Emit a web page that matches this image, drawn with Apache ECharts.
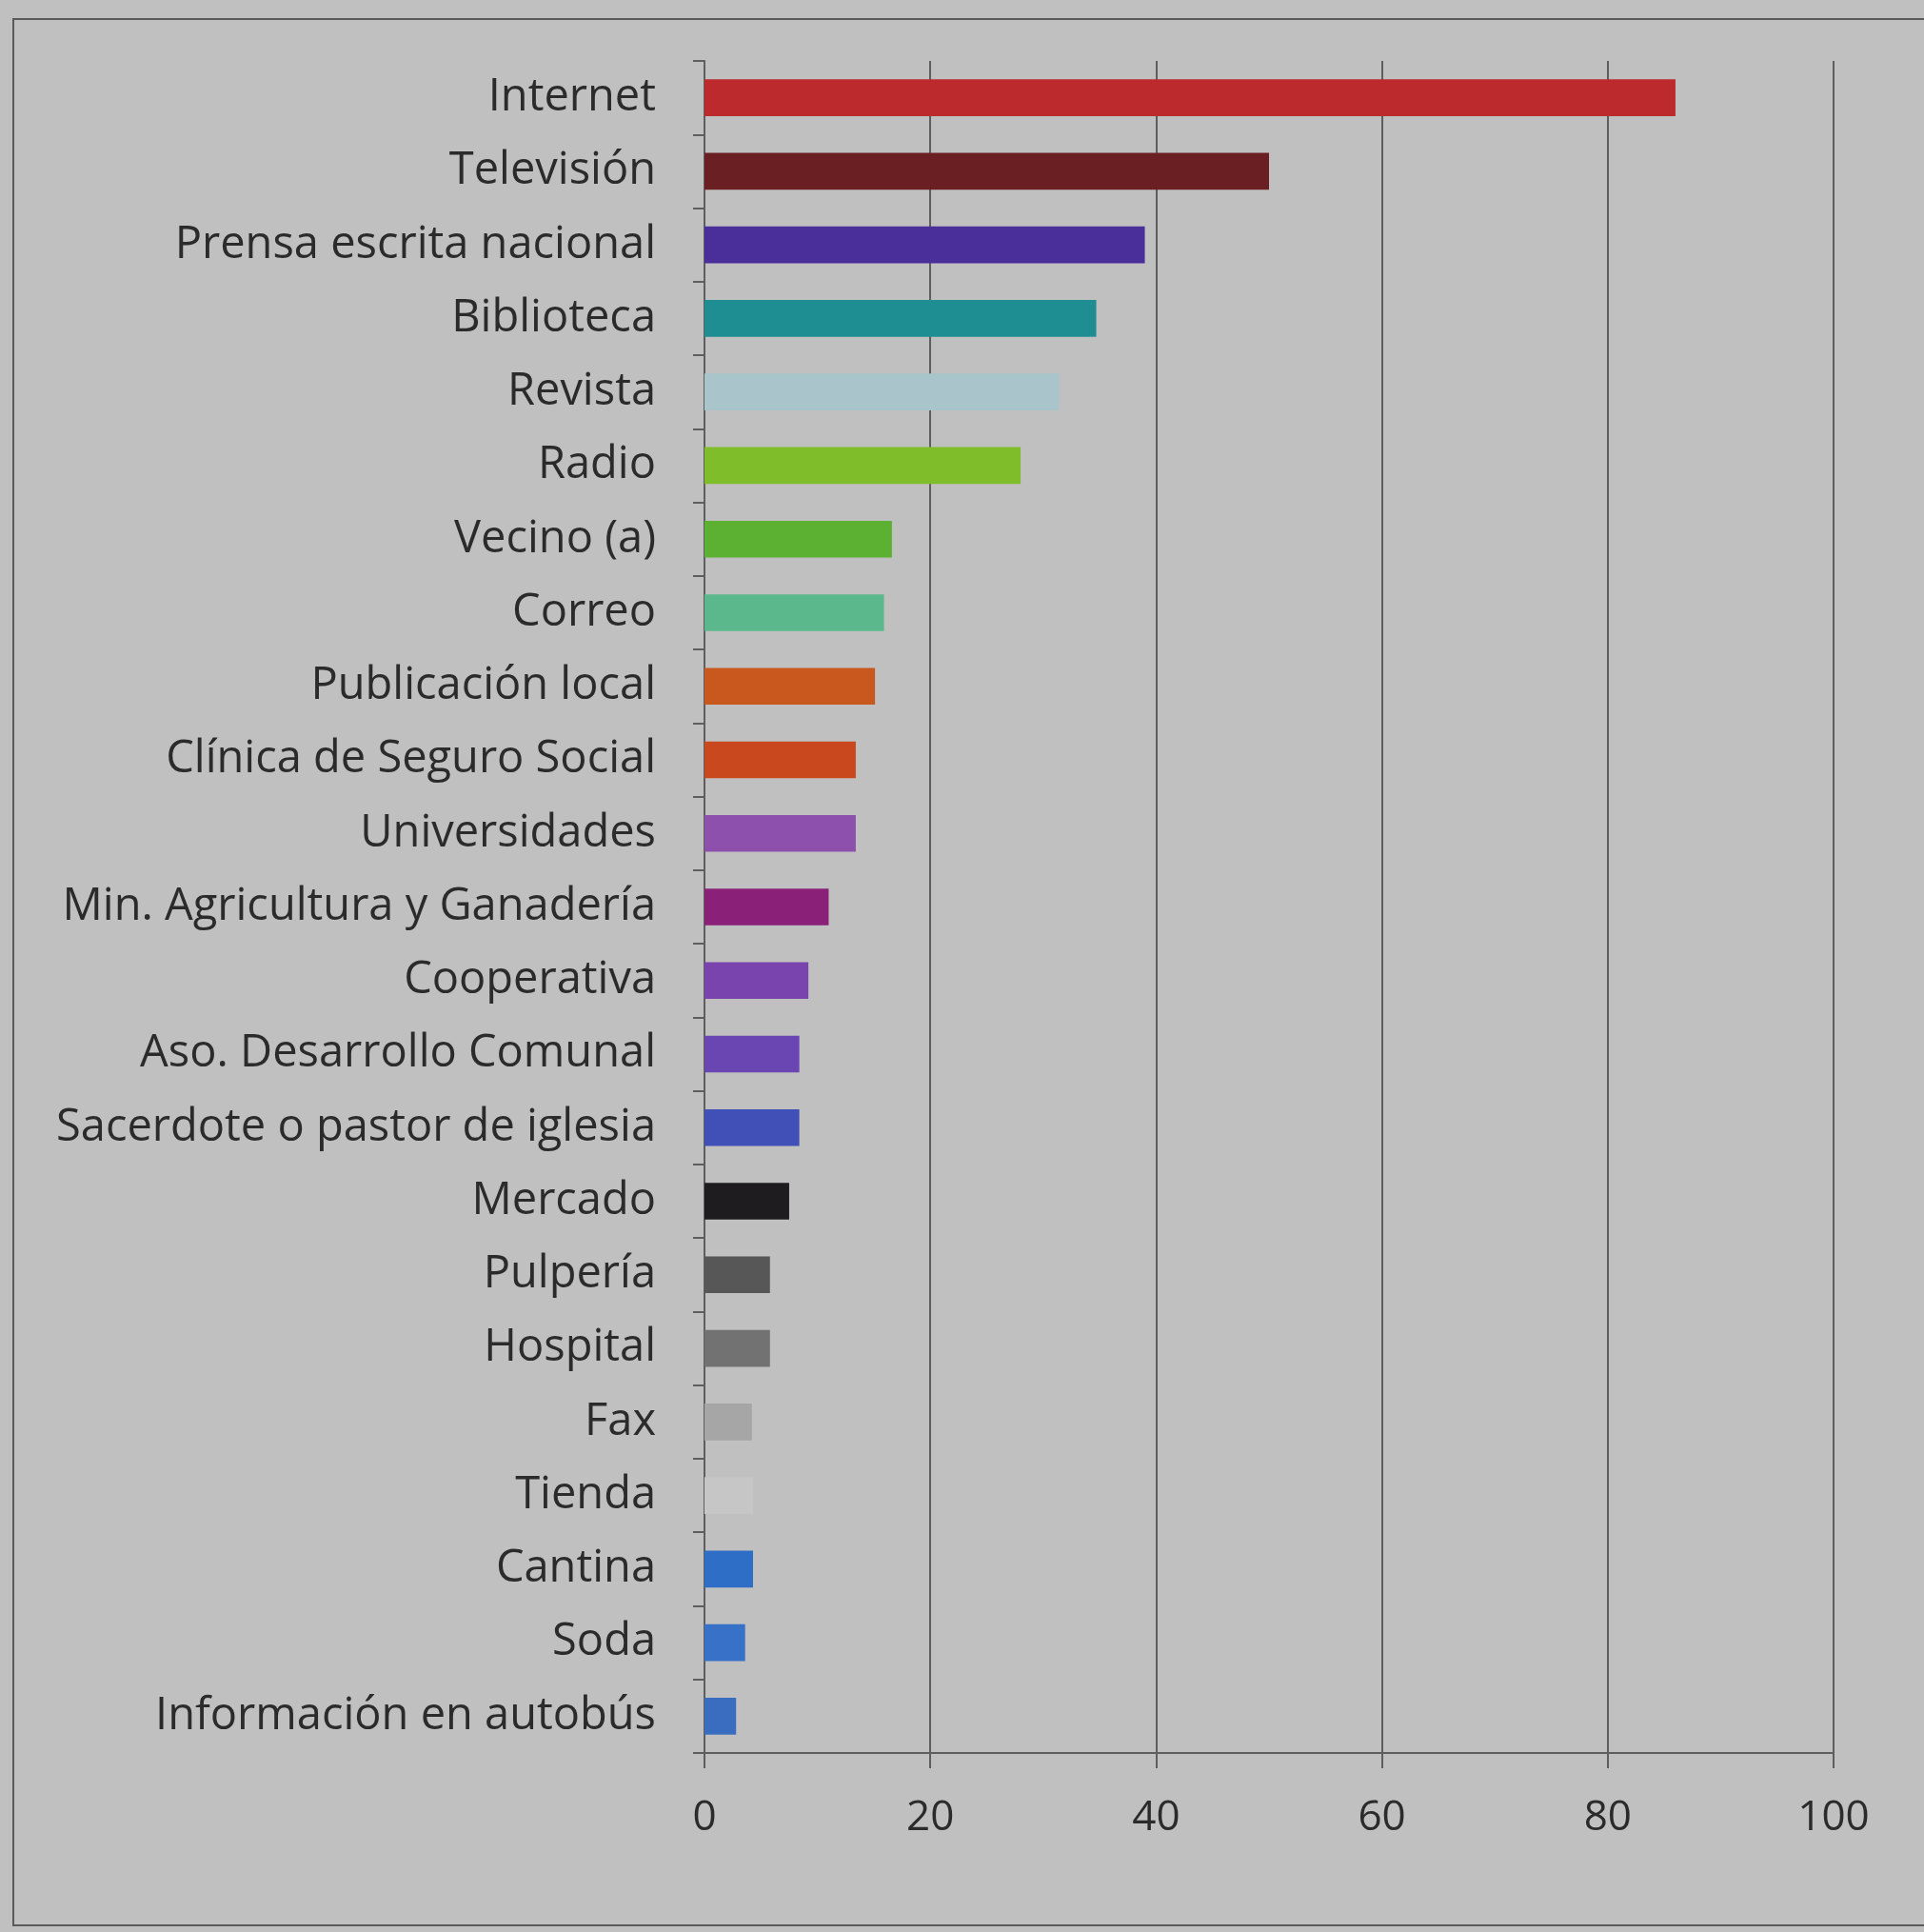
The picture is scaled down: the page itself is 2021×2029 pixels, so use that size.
<!DOCTYPE html>
<html>
<head>
<meta charset="utf-8">
<script src="https://cdn.jsdelivr.net/npm/echarts@6/dist/echarts.min.js"></script>
<style>
  html, body { margin: 0; padding: 0; background: #c0c0c0; }
  #chart { width: 2021px; height: 2029px; }
</style>
</head>
<body>
<div id="chart"></div>
<script>
// Fuentes de información consultadas (porcentaje)
const categories = [
  'Internet', 'Televisión', 'Prensa escrita nacional', 'Biblioteca', 'Revista',
  'Radio', 'Vecino (a)', 'Correo', 'Publicación local', 'Clínica de Seguro Social',
  'Universidades', 'Min. Agricultura y Ganadería', 'Cooperativa',
  'Aso. Desarrollo Comunal', 'Sacerdote o pastor de iglesia', 'Mercado',
  'Pulpería', 'Hospital', 'Fax', 'Tienda', 'Cantina', 'Soda',
  'Información en autobús'
];
const values = [
  86, 50, 39, 34.7, 31.4,
  28, 16.6, 15.9, 15.1, 13.4,
  13.4, 11, 9.2,
  8.4, 8.4, 7.5,
  5.8, 5.8, 4.2, 4.3, 4.3, 3.6,
  2.8
];
const barColors = [
  '#bd2a2e', '#6a1f23', '#4a2f9a', '#1f8e93', '#a9c5cb',
  '#80bd2a', '#5cb032', '#5ab88c', '#c8581e', '#c9481e',
  '#8e50ad', '#8a2078', '#7a44ae',
  '#6a46b2', '#4150b6', '#1f1c20',
  '#575757', '#727272', '#a6a6a6', '#c6c6c6', '#2f6ec6', '#3871c8',
  '#3a6cc0'
];
const xTicks = { min: 0, max: 100, interval: 20 };

const chart = echarts.init(document.getElementById('chart'), null, { renderer: 'canvas' });

const labelFont = {
  color: '#2b2b2b',
  fontFamily: '"Open Sans"',
  fontWeight: 500
};

chart.setOption({
  backgroundColor: '#c0c0c0',
  animation: false,
  graphic: [{
    type: 'rect',
    shape: { x: 14, y: 20, width: 2100, height: 2002 },
    style: { fill: 'none', stroke: '#5a5a5a', lineWidth: 2 },
    silent: true
  }],
  grid: { left: 740, top: 64, width: 1186, height: 1777, containLabel: false },
  xAxis: {
    type: 'value',
    min: xTicks.min,
    max: xTicks.max,
    interval: xTicks.interval,
    axisLine: { show: true, lineStyle: { color: '#5e5e5e', width: 2 } },
    axisTick: { show: true, length: 16, lineStyle: { color: '#5e5e5e', width: 2 } },
    splitLine: { show: true, lineStyle: { color: '#5e5e5e', width: 2 } },
    axisLabel: Object.assign({ margin: 46, fontSize: 44 }, labelFont)
  },
  yAxis: {
    type: 'category',
    data: categories,
    inverse: true,
    axisLine: { show: true, lineStyle: { color: '#5e5e5e', width: 2 } },
    axisTick: { show: true, length: 12, inside: false, lineStyle: { color: '#5e5e5e', width: 2 } },
    axisLabel: Object.assign({ margin: 51, fontSize: 47 }, labelFont),
    splitLine: { show: false }
  },
  series: [{
    type: 'bar',
    barWidth: '50%',
    data: values.map((v, i) => ({ value: v, itemStyle: { color: barColors[i] } }))
  }]
});
</script>
</body>
</html>
